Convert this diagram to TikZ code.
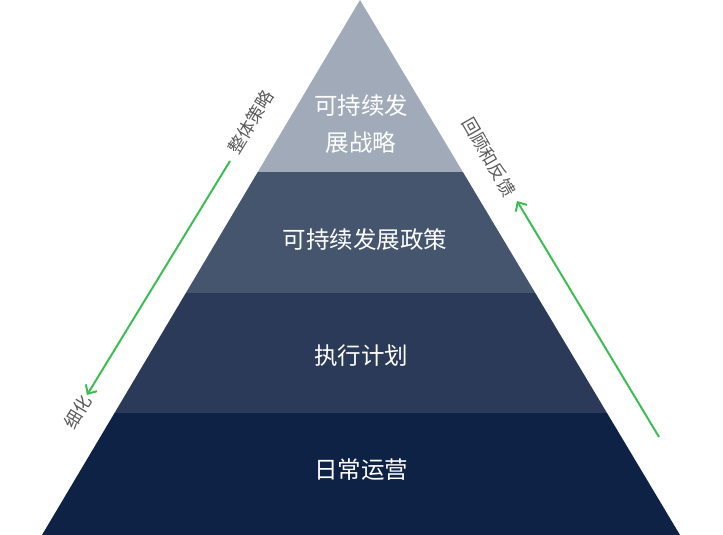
\documentclass[tikz,border=0pt]{standalone}
\usepackage{fontspec}
\setmainfont{Noto Sans CJK SC}
\usetikzlibrary{calc,arrows.meta}

\definecolor{layerA}{RGB}{160,170,185}
\definecolor{layerB}{RGB}{69,85,110}
\definecolor{layerC}{RGB}{42,58,88}
\definecolor{layerD}{RGB}{14,34,69}
\definecolor{arrowgreen}{RGB}{61,190,85}
\definecolor{sidegray}{RGB}{90,90,90}

\tikzset{
  layertext/.style={text=white, font=\fontsize{23.5}{37}\selectfont, align=center},
  sidetext/.style={text=sidegray, font=\fontsize{17.5}{20}\selectfont, inner sep=1pt},
  flow/.style={draw=arrowgreen, line width=2pt, -{Straight Barb[length=7pt,width=13pt]}}
}

\begin{document}
\begin{tikzpicture}[x=1pt, y=-1pt]
\useasboundingbox (0,0) rectangle (723,535);

% Pyramid corners
\coordinate (apex) at (360,0);
\coordinate (baseL) at (42,535);
\coordinate (baseR) at (680,535);

% Layer boundaries
\foreach \i/\t in {1/0.3215, 2/0.5477, 3/0.7720} {
    \coordinate (L\i) at ($(apex)!\t!(baseL)$);
    \coordinate (R\i) at ($(apex)!\t!(baseR)$);
}

% Layers
\fill[layerA] (apex) -- (L1) -- (R1) -- cycle;
\fill[layerB] (L1) -- (L2) -- (R2) -- (R1) -- cycle;
\fill[layerC] (L2) -- (L3) -- (R3) -- (R2) -- cycle;
\fill[layerD] (L3) -- (baseL) -- (baseR) -- (R3) -- cycle;

% Layer labels
\node[layertext] (strategy) at (361,124) {可持续发\\展战略};
\node[layertext] (policy) at (365,240) {可持续发展政策};
\node[layertext] (plan) at (361,356) {执行计划};
\node[layertext] (daily) at (361,470) {日常运营};

% Refining arrow (left)
\coordinate (downS) at (230,161);
\coordinate (downE) at (87,395);
\draw[flow] (downS) -- (downE);
\node[sidetext, rotate=58.6] (overall) at (251,122) {整体策略};
\node[sidetext, rotate=58.6] (refine) at (78,412) {细化};

% Feedback arrow (right)
\coordinate (upS) at (659,437);
\coordinate (upE) at (517,201);
\draw[flow] (upS) -- (upE);
\node[sidetext, rotate=-60] (review) at (489,157) {回顾和反馈};
\end{tikzpicture}
\end{document}
